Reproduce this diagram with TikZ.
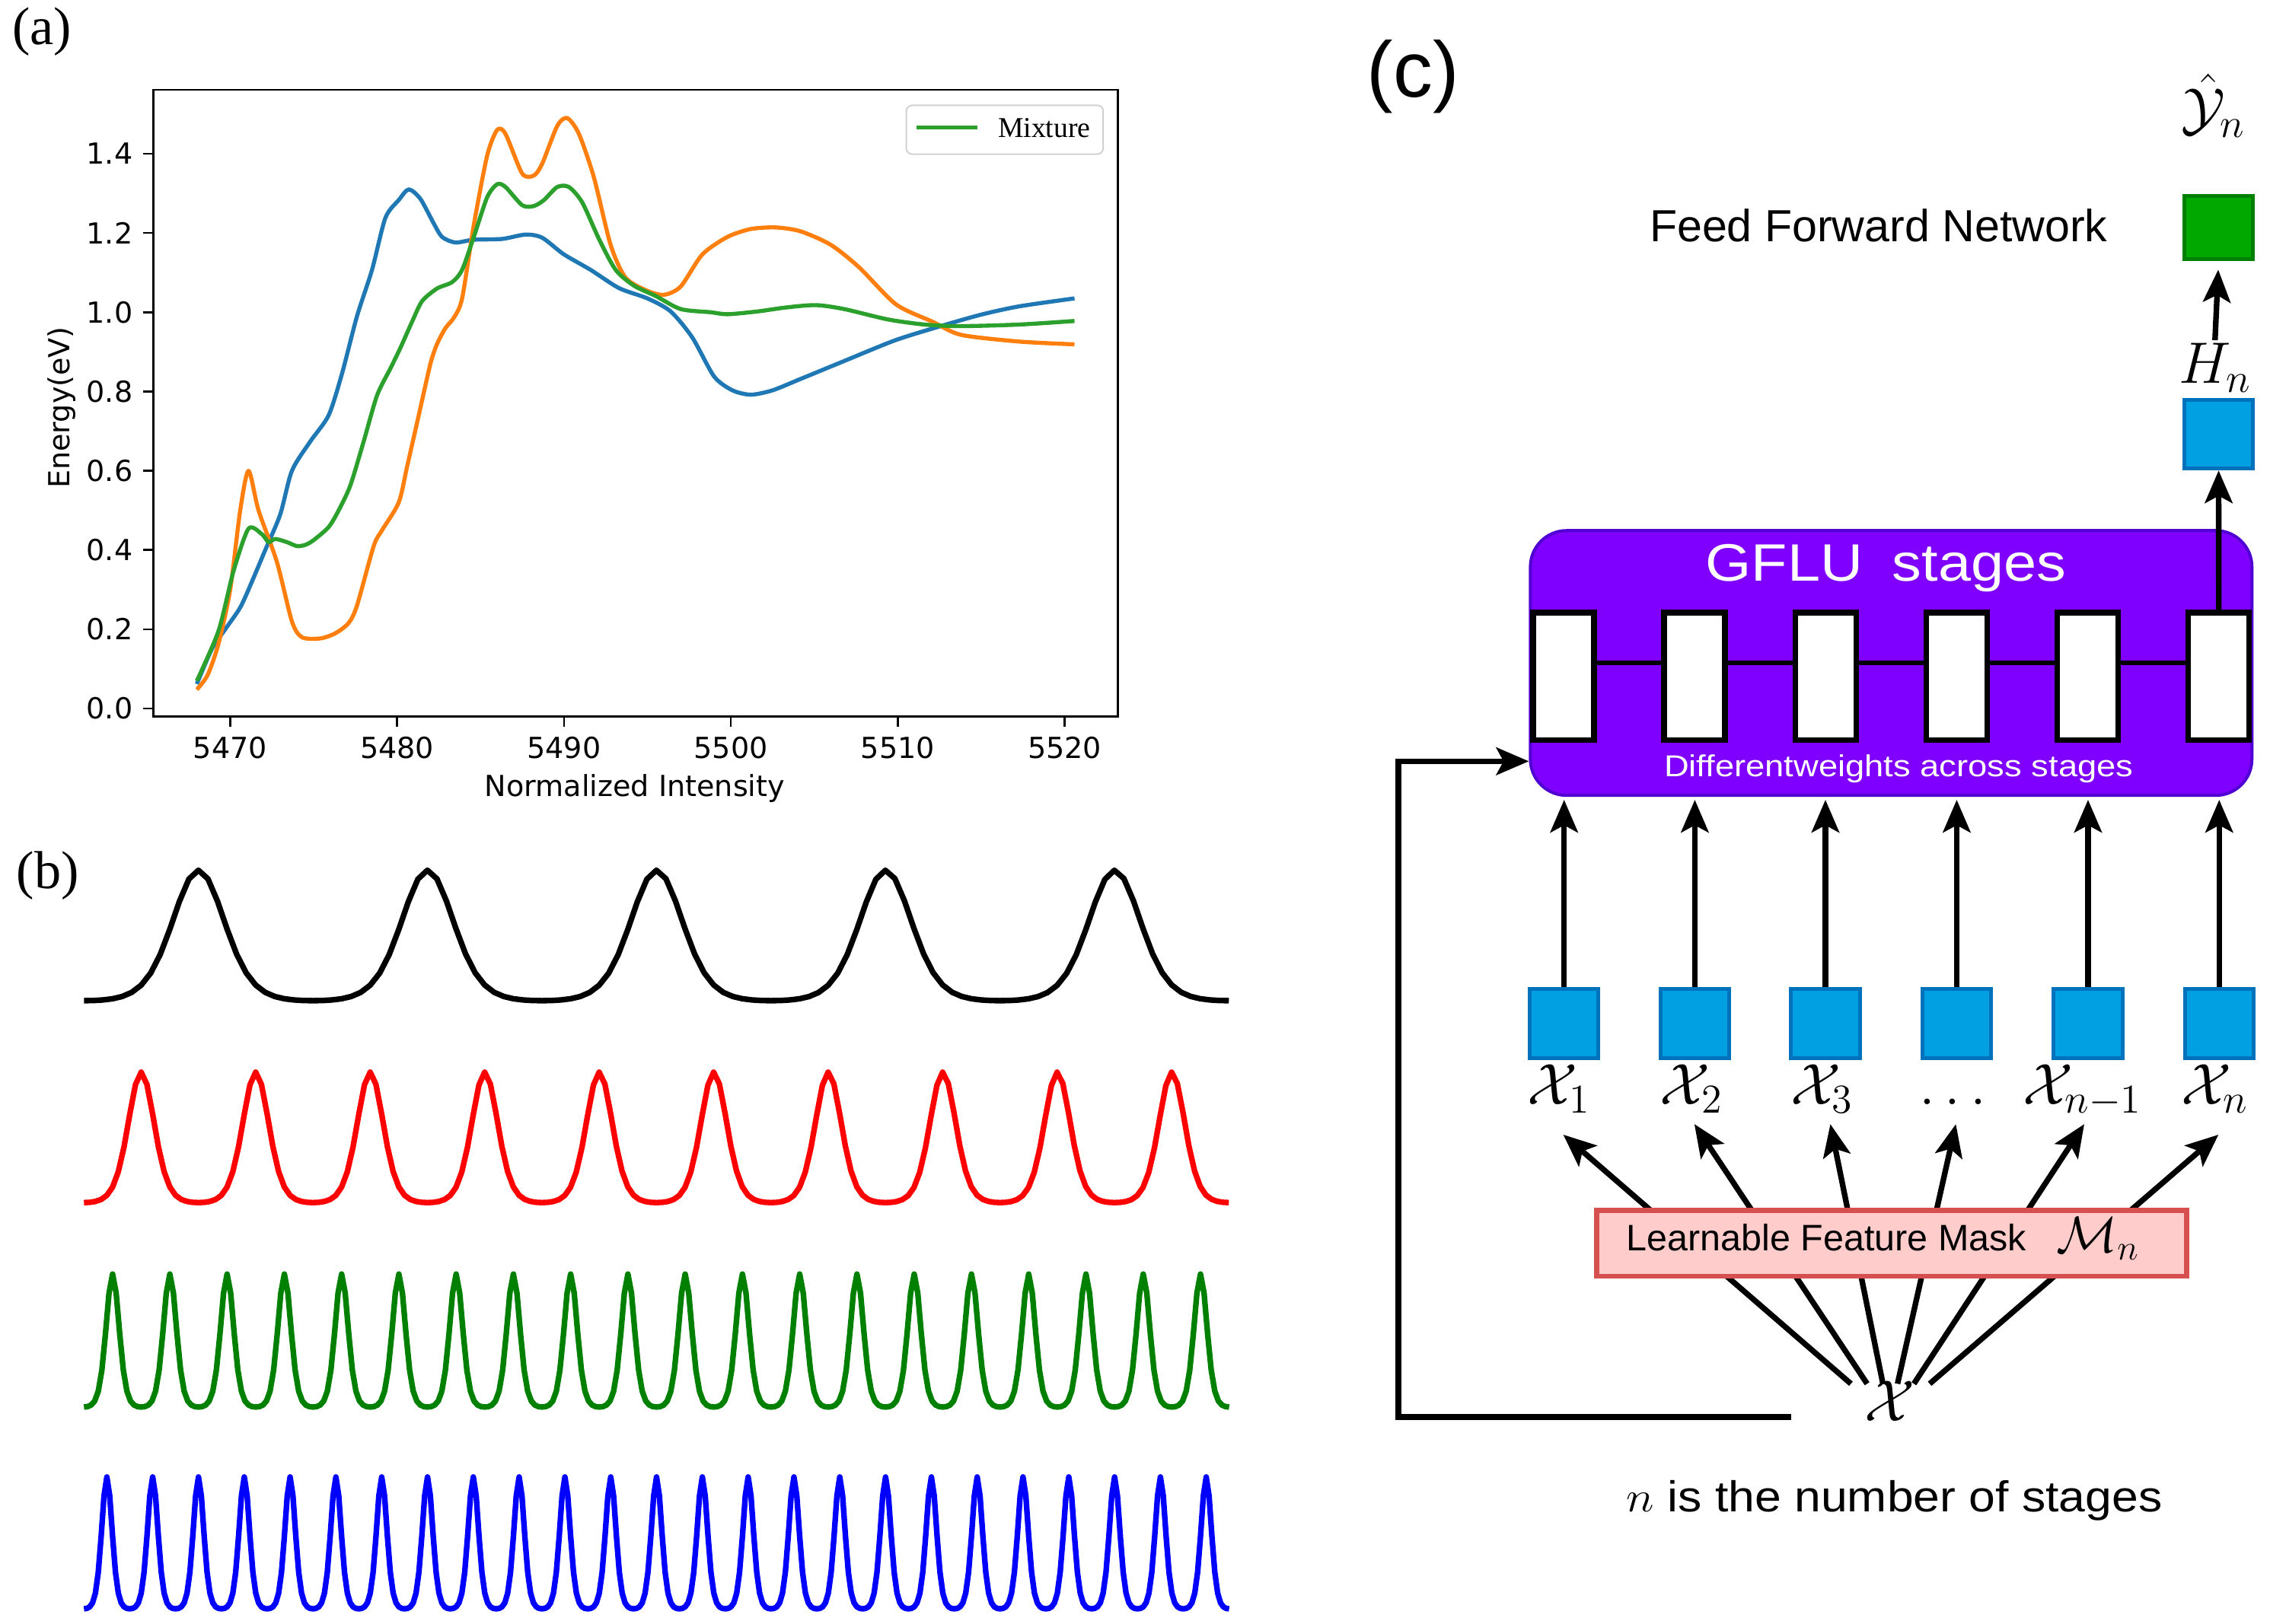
\RequirePackage{fix-cm}
\documentclass[tikz,border=0pt]{standalone}
\usepackage[no-math]{fontspec}
\setmainfont{Liberation Serif}
\newfontfamily\arialf{Liberation Sans}
\newfontfamily\dejavuf{DejaVu Sans}
\usepackage{graphicx}
\usetikzlibrary{arrows.meta,calc}
\definecolor{bfill}{RGB}{0,160,227}
\definecolor{bborder}{RGB}{0,114,188}
\definecolor{gfill}{RGB}{0,168,0}
\definecolor{gborder}{RGB}{0,128,0}
\definecolor{pfill}{RGB}{127,0,255}
\definecolor{pborder}{RGB}{80,0,210}
\definecolor{mfill}{RGB}{255,204,204}
\definecolor{mborder}{RGB}{214,80,80}
\definecolor{mplblue}{HTML}{1F77B4}
\definecolor{mplorange}{HTML}{FF7F0E}
\definecolor{mplgreen}{HTML}{2CA02C}
\definecolor{wgreen}{RGB}{0,128,0}
\tikzset{
  ticklab/.style={font={\dejavuf\fontsize{11.4}{13}\selectfont}, inner sep=0pt},
  curve/.style={line width=1.6pt, line join=round, smooth, tension=0.45},
  wave/.style={line width=2.2pt, line join=round},
  arr/.style={line width=2.2pt, -{Stealth[length=0.45cm,width=0.38cm,inset=0.1cm]}},
  bluebox/.style={draw=bborder, fill=bfill, line width=1.5pt, minimum width=0.95cm, minimum height=0.95cm, inner sep=0pt},
  greenbox/.style={draw=gborder, fill=gfill, line width=1.5pt, minimum width=0.95cm, minimum height=0.87cm, inner sep=0pt},
  stagebox/.style={draw=black, fill=white, line width=2.2pt, minimum width=0.842cm, minimum height=1.762cm, inner sep=0pt},
  mathlab/.style={font={\fontsize{23}{27}\selectfont}, inner sep=1pt},
}
\begin{document}
\begin{tikzpicture}[x=0.02cm, y=-0.02cm]
\useasboundingbox (0,0) rectangle (1568,1121.6);

% ================= panel (a) =================
\node[font={\fontsize{21}{25}\selectfont}] (lbla) at (29,22) {(a)};
\draw[line width=0.8pt] (106,62) rectangle (772,495);
\foreach \i in {0,...,5} {
  \pgfmathsetmacro\xx{159+115.28*\i}
  \pgfmathtruncatemacro\lab{5470+10*\i}
  \draw[line width=0.8pt] (\xx,495) -- (\xx,502);
  \node[ticklab] (xt\i) at (\xx,516.5) {\lab};
}
\foreach \i/\lab in {0/0.0,1/0.2,2/0.4,3/0.6,4/0.8,5/1.0,6/1.2,7/1.4} {
  \pgfmathsetmacro\yy{489.6-54.77*\i}
  \draw[line width=0.8pt] (106,\yy) -- (99,\yy);
  \node[ticklab, anchor=east] (yt\i) at (92,\yy) {\lab};
}
\node[ticklab] (xlab) at (438.5,545) {Normalized Intensity};
\node[ticklab, rotate=90] (ylab) at (42.8,281.6) {Energy(eV)};

\begin{scope}[shift={(159,489.6)}, x=0.23056cm, y=5.478cm]
\draw[curve, mplblue] plot coordinates {(-2,0.062) (-1.1,0.15) (-0.3,0.2) (0.6,0.255) (1.3,0.32) (2.1,0.40) (3.0,0.49) (3.7,0.6) (4.8,0.674) (5.9,0.74) (6.7,0.845) (7.6,0.99) (8.5,1.107) (9.3,1.238) (10.1,1.283) (10.7,1.31) (11.4,1.286) (12.2,1.224) (12.7,1.19) (13.5,1.176) (14.6,1.183) (16.3,1.185) (17.7,1.196) (18.7,1.188) (20,1.146) (21.6,1.107) (23.3,1.061) (25,1.035) (26.4,1.002) (27.7,0.936) (29,0.838) (30.1,0.803) (31.2,0.792) (32.5,0.803) (34.2,0.832) (36.8,0.877) (39.9,0.93) (42.9,0.969) (45.1,0.995) (47.3,1.015) (50.6,1.035)};
\draw[curve, mplorange] plot coordinates {(-2,0.048) (-1.35,0.085) (-0.7,0.164) (0,0.3) (0.6,0.5) (1.1,0.60) (1.7,0.5) (2.8,0.37) (3.7,0.22) (4.3,0.18) (5.4,0.177) (6.3,0.19) (7.1,0.216) (7.6,0.26) (8.6,0.41) (9.1,0.45) (10.1,0.52) (10.6,0.61) (11.3,0.74) (12,0.87) (12.4,0.92) (12.9,0.96) (13.4,0.986) (13.9,1.035) (14.6,1.22) (15.4,1.395) (16,1.46) (16.5,1.45) (17.5,1.35) (18.2,1.345) (18.7,1.375) (19.6,1.47) (20.2,1.49) (20.9,1.45) (21.8,1.34) (22.8,1.17) (23.7,1.087) (25,1.054) (26,1.044) (27,1.065) (28.3,1.146) (29.8,1.19) (31.2,1.21) (32.7,1.214) (34.2,1.204) (36,1.17) (37.7,1.113) (39.9,1.02) (42.1,0.976) (43.8,0.943) (47.3,0.926) (50.6,0.919)};
\draw[curve, mplgreen] plot coordinates {(-2,0.07) (-0.7,0.196) (0.2,0.347) (1.1,0.454) (1.9,0.44) (2.3,0.42) (2.7,0.428) (3.4,0.42) (4,0.41) (4.5,0.413) (5,0.425) (5.9,0.458) (6.5,0.5) (7.2,0.563) (8,0.674) (8.8,0.79) (9.6,0.858) (10.2,0.91) (10.9,0.976) (11.5,1.028) (12.4,1.06) (13.3,1.076) (13.9,1.107) (14.6,1.19) (15.4,1.29) (16,1.323) (16.5,1.316) (17.5,1.27) (18.2,1.268) (18.8,1.283) (19.6,1.316) (20.3,1.316) (21.1,1.277) (22.1,1.185) (23.1,1.107) (24.2,1.067) (25.5,1.041) (27,1.008) (28.8,1.0) (29.8,0.995) (31.6,1.002) (33.3,1.012) (35.1,1.018) (36.8,1.008) (39.4,0.982) (41.6,0.969) (43.8,0.965) (47.3,0.969) (50.6,0.978)};
\end{scope}

% legend
\draw[rounded corners=0.08cm, draw=black!18, line width=0.6pt, fill=white] (626,72.8) rectangle (762,106.5);
\coordinate (lg1) at (633,88);
\coordinate (lg2) at (675,88);
\draw[line width=1.6pt, mplgreen] (lg1) -- (lg2);
\node[anchor=base west, inner sep=0pt, font={\fontsize{11.3}{13}\selectfont}] (legtxt) at (689,95) {Mixture};

% ================= panel (b) =================
\node[font={\fontsize{21}{25}\selectfont}] (lblb) at (33,605) {(b)};
\draw[wave, black] plot[variable=\t, domain=0:5, samples=121] ({58+158.2*\t},{693.1-91.8*exp(2*(-cos(360*\t)-1))});
\draw[wave, red] plot[variable=\t, domain=0:10, samples=201] ({58+79.1*\t},{832.6-91.8*exp(2*(-cos(360*\t)-1))});
\draw[wave, wgreen] plot[variable=\t, domain=0:20, samples=321] ({58+39.55*\t},{973.9-93.6*exp(2*(-cos(360*\t)-1))});
\draw[wave, blue] plot[variable=\t, domain=0:25, samples=401] ({58+31.64*\t},{1113.3-92.8*exp(2*(-cos(360*\t)-1))});

% ================= panel (c) =================
\node[font={\arialf\fontsize{31}{36}\selectfont}] (lblc) at (976,53) {(c)};
\node[mathlab] (yhat) at (1529,73) {$\hat{\mathcal{Y}}_n$};
\node[anchor=base, font={\arialf\fontsize{17.7}{21}\selectfont}] (ffnlab) at (1297.6,167.1) {Feed Forward Network};
\node[greenbox] (ffn) at (1532.5,157.3) {};
\node[mathlab] (hn) at (1530,254) {$H_n$};
\node[bluebox] (hb) at (1532.5,300) {};
\draw[arr, shorten >=0.12cm] (hn.north) -- (ffn.south);

% GFLU box
\node[draw=pborder, fill=pfill, line width=1.2pt, rounded corners=0.5cm, minimum width=9.97cm, minimum height=3.66cm, inner sep=0pt] (gflu) at (1306.3,458.1) {};
\node[anchor=base, text=white, font={\arialf\fontsize{20.7}{24}\selectfont}] (gflutxt) at (1302.6,401.5) {\scalebox{1.12}[1]{GFLU\hspace{0.5em}stages}};
\foreach \i in {1,...,6} {
  \pgfmathsetmacro\xx{1080+90.52*(\i-1)}
  \node[stagebox] (r\i) at (\xx,467.3) {};
}
\foreach \i/\j in {1/2,2/3,3/4,4/5,5/6} {
  \draw[line width=1.8pt] ($(r\i.east)+(0,-9.2)$) -- ($(r\j.west)+(0,-9.2)$);
}
\node[anchor=base, text=white, font={\arialf\fontsize{11.9}{14}\selectfont}] (difftxt) at (1311.5,536.7) {\scalebox{1.14}[1]{Differentweights across stages}};
\draw[arr] (r6.north) -- (hb.south);

% input boxes
\foreach \i/\xx in {1/1080.4,2/1170.7,3/1260.9,4/1351.6,5/1442.3,6/1532.9} {
  \node[bluebox] (xb\i) at (\xx,707.3) {};
  \draw[arr] (xb\i.north) -- ($(xb\i.north |- gflu.south)+(0,2)$);
}
\node[mathlab, anchor=base] (xl1) at (1077,763) {$\mathcal{X}_1$};
\node[mathlab, anchor=base] (xl2) at (1168.5,763) {$\mathcal{X}_2$};
\node[mathlab, anchor=base] (xl3) at (1258.5,763) {$\mathcal{X}_3$};
\node[mathlab, anchor=base] (xl4) at (1349,763) {$\ldots$};
\node[mathlab, anchor=base] (xl5) at (1438.6,763) {$\mathcal{X}_{n-1}$};
\node[mathlab, anchor=base] (xl6) at (1530,763) {$\mathcal{X}_n$};

% fan
\node[mathlab, anchor=base] (xin) at (1305.6,982) {$\mathcal{X}$};
\foreach \i/\sx/\tx/\ty in {1/1278.5/1079.8/784,2/1289.7/1170.4/776.7,3/1300.6/1264.3/776.7,4/1310.7/1351/776.7,5/1322/1439.7/776.7,6/1332.9/1532.4/784} {
  \coordinate (s\i) at (\sx,956.1);
  \coordinate (t\i) at (\tx,\ty);
  \draw[arr] (s\i) -- (t\i);
}
\node[draw=mborder, fill=mfill, line width=2pt, minimum width=8.15cm, minimum height=0.914cm, inner sep=0pt] (mask) at (1306.7,859) {};
\node[anchor=base west, inner sep=0pt, font={\arialf\fontsize{14.5}{17}\selectfont}] (masktxt) at (1123.3,864) {Learnable Feature Mask};
\node[anchor=base west, inner sep=0pt, font={\fontsize{20}{24}\selectfont}] (maskm) at (1420,865) {$\mathcal{M}_n$};

% loop connector
\coordinate (ls) at (1237,979);
\coordinate (lc) at (966,526);
\draw[arr] (ls) -| (lc) -- (lc -| gflu.west);

\node[anchor=base west, inner sep=0pt, font={\arialf\fontsize{17}{20}\selectfont}] (note) at (1123.3,1044.6) {\scalebox{1.1}[1]{$n$ is the number of stages}};
\end{tikzpicture}
\end{document}
